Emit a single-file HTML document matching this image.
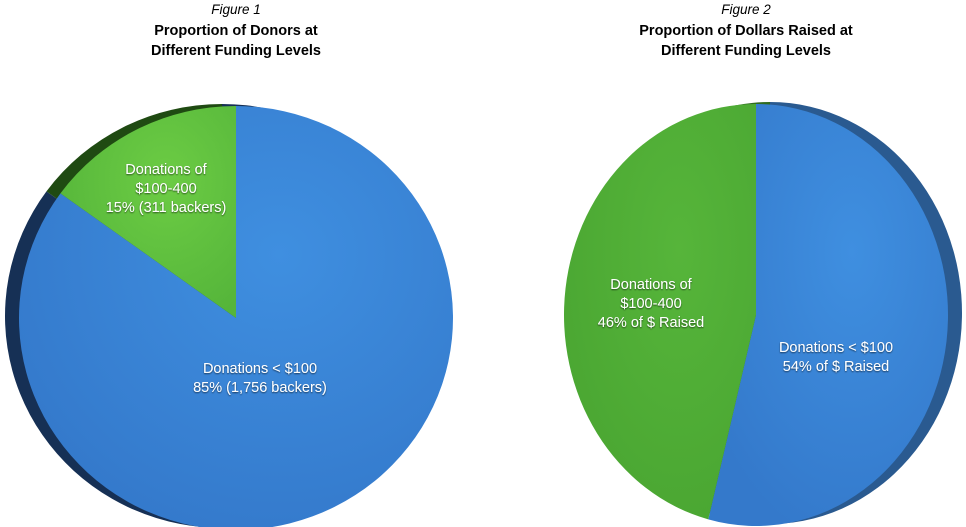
<!DOCTYPE html>
<html><head><meta charset="utf-8"><style>
html,body{margin:0;padding:0;background:#fff;}
svg{display:block;font-family:"Liberation Sans",Arial,sans-serif;}
.lbl{fill:#fff;font-size:14.5px;text-anchor:middle;}
</style></head><body>
<svg id="chart" width="966" height="527" viewBox="0 0 966 527">
<defs>
<filter id="ts" x="-10%" y="-10%" width="120%" height="140%"><feDropShadow dx="0" dy="1" stdDeviation="0.8" flood-color="#000" flood-opacity="0.6"/></filter>
<radialGradient id="gb" cx="0.6" cy="0.35" r="0.7"><stop offset="0" stop-color="#3f8fe0"/><stop offset="1" stop-color="#3479cb"/></radialGradient>
<radialGradient id="gg1" cx="0.6" cy="0.35" r="0.7"><stop offset="0" stop-color="#6ccc44"/><stop offset="1" stop-color="#55b53a"/></radialGradient>
<radialGradient id="gg2" cx="0.6" cy="0.35" r="0.7"><stop offset="0" stop-color="#56b53a"/><stop offset="1" stop-color="#4aa632"/></radialGradient>
</defs>
<g>
<text x="236" y="14" text-anchor="middle" font-style="italic" font-size="13.5">Figure 1</text>
<text x="236" y="35" text-anchor="middle" font-weight="bold" font-size="14.5">Proportion of Donors at</text>
<text x="236" y="55" text-anchor="middle" font-weight="bold" font-size="14.5">Different Funding Levels</text>
</g>
<g>
<text x="746" y="14" text-anchor="middle" font-style="italic" font-size="13.5">Figure 2</text>
<text x="746" y="35" text-anchor="middle" font-weight="bold" font-size="14.5">Proportion of Dollars Raised at</text>
<text x="746" y="55" text-anchor="middle" font-weight="bold" font-size="14.5">Different Funding Levels</text>
</g>
<g id="pie1"></g>
<g id="pie2"></g>
</svg>
<script>
const categories = ["Donations < $100", "Donations of $100-400"];
const donorShares = [85, 15];
const dollarShares = [54, 46];
const donorLabels = [["Donations < $100","85% (1,756 backers)"],["Donations of","$100-400","15% (311 backers)"]];
const dollarLabels = [["Donations < $100","54% of $ Raised"],["Donations of","$100-400","46% of $ Raised"]];

const NS = "http://www.w3.org/2000/svg";
function pt(cx, cy, rx, ry, frac){ const a = frac*2*Math.PI; return [cx + rx*Math.sin(a), cy - ry*Math.cos(a)]; }
function slicePath(cx, cy, rx, ry, f0, f1){
  const p0 = pt(cx,cy,rx,ry,f0), p1 = pt(cx,cy,rx,ry,f1);
  const large = (f1-f0) > 0.5 ? 1 : 0;
  return `M${cx},${cy} L${p0[0]},${p0[1]} A${rx},${ry} 0 ${large} 1 ${p1[0]},${p1[1]} Z`;
}
function drawPie(g, shares, labels, geo, greenFill, darkColors, names){
  const total = shares.reduce((a,b)=>a+b,0);
  const fGreen = shares[1]/total;
  const ranges = [[0, 1 - fGreen], [1 - fGreen, 1]];
  ranges.forEach((r,i)=>{
    const p = document.createElementNS(NS,"path");
    p.setAttribute("d", slicePath(geo.cx+geo.dx, geo.cy+geo.dy, geo.rx, geo.ry, r[0], r[1]));
    p.setAttribute("fill", darkColors[i]);
    
    
    g.appendChild(p);
  });
  ranges.forEach((r,i)=>{
    const p = document.createElementNS(NS,"path");
    p.setAttribute("d", slicePath(geo.cx, geo.cy, geo.rx, geo.ry, r[0], r[1]));
    p.setAttribute("fill", i===0 ? "url(#gb)" : greenFill);
    
    
    g.appendChild(p);
  });
  labels.forEach((lines,i)=>{
    const pos = geo.labels[i];
    lines.forEach((s,k)=>{
      const t = document.createElementNS(NS,"text");
      t.setAttribute("x", pos[0]); t.setAttribute("y", pos[1] + k*19);
      t.setAttribute("class","lbl"); t.setAttribute("filter","url(#ts)");
      t.textContent = s;
      
      
      g.appendChild(t);
    });
  });
}
drawPie(document.getElementById("pie1"), donorShares, donorLabels,
  {cx:236, cy:318, rx:217, ry:212, dx:-14, dy:-2, labels:[[260,373],[166,174]]},
  "url(#gg1)", ["#163055","#1f4a12"], ["slice-under-100","slice-100-400"]);
drawPie(document.getElementById("pie2"), dollarShares, dollarLabels,
  {cx:756, cy:315, rx:192, ry:211, dx:14, dy:-2, labels:[[836,352],[651,289]]},
  "url(#gg2)", ["#2a5a90","#2f6a20"], ["slice-under-100-dollars","slice-100-400-dollars"]);
</script>
</body></html>
